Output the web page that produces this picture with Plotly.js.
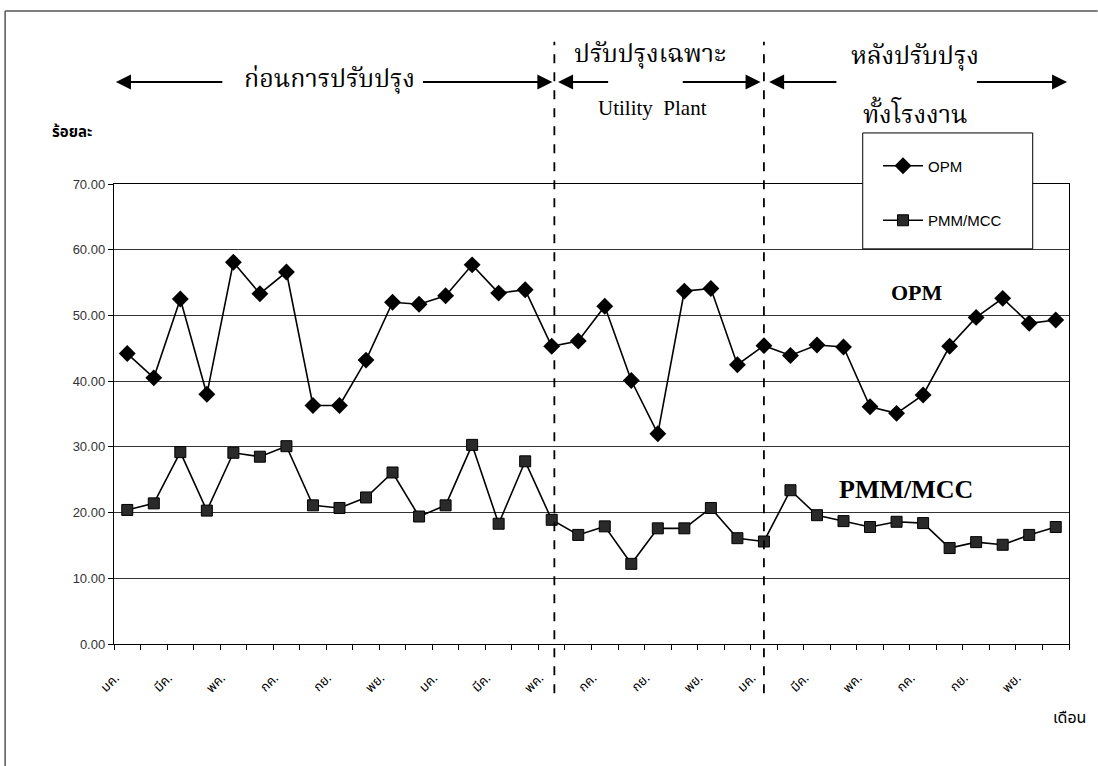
<!DOCTYPE html>
<html>
<head>
<meta charset="utf-8">
<script src="https://cdn.plot.ly/plotly-3.0.1.min.js"></script>
<style>
  html, body { margin: 0; padding: 0; background: #ffffff; }
  #chart { width: 1098px; height: 766px; }
</style>
</head>
<body>
<div id="chart"></div>
<script>
// Monthly ratios over three years (index 0 = มค. of the first year)
const monthNames = ['มค.', 'กพ.', 'มีค.', 'เมย.', 'พค.', 'มิย.', 'กค.', 'สค.', 'กย.', 'ตค.', 'พย.', 'ธค.'];

const opm = [44.2, 40.5, 52.5, 38.0, 58.1, 53.3, 56.6, 36.3, 36.3, 43.2, 52.0, 51.7,
             53.0, 57.7, 53.4, 53.9, 45.3, 46.1, 51.4, 40.1, 32.0, 53.7, 54.1, 42.5,
             45.4, 43.9, 45.5, 45.2, 36.1, 35.1, 37.9, 45.3, 49.7, 52.6, 48.8, 49.3];

const pmmMcc = [20.4, 21.4, 29.2, 20.3, 29.1, 28.5, 30.1, 21.1, 20.7, 22.3, 26.1, 19.4,
                21.1, 30.3, 18.3, 27.8, 18.9, 16.6, 17.9, 12.2, 17.6, 17.6, 20.7, 16.1,
                15.6, 23.4, 19.6, 18.7, 17.8, 18.6, 18.4, 14.6, 15.5, 15.1, 16.6, 17.8];

// Month positions where the improvement phases change
const phaseBreaks = [16.1, 24];

const idx = opm.map((_, i) => i);
const labelIdx = idx.filter(i => i % 2 === 0);
const labelText = labelIdx.map(i => monthNames[i % 12]);
const boundaryTicks = idx.concat([idx.length]).map(i => i - 0.5);

const thaiSerif = '"Noto Serif Thai", "Norasi", "Laksaman", "Noto Sans Thai", "Liberation Serif", serif';
const thaiSans = '"Noto Sans Thai", "Loma", "Garuda", "Tahoma", "DejaVu Sans", sans-serif';

const traces = [
  {
    x: idx, y: opm, name: 'OPM', type: 'scatter', mode: 'lines+markers',
    legendgroup: 'a',
    line: { color: '#000000', width: 1.6 },
    marker: { symbol: 'diamond', size: 13, color: '#000000' }
  },
  {
    x: idx, y: pmmMcc, name: 'PMM/MCC', type: 'scatter', mode: 'lines+markers',
    legendgroup: 'b',
    line: { color: '#000000', width: 1.6 },
    marker: { symbol: 'square', size: 11, color: '#2a2a2a', line: { color: '#000000', width: 1 } }
  }
];

const shapes = phaseBreaks.map(b => ({
  type: 'line', xref: 'x', yref: 'paper', x0: b, x1: b, y0: -0.107, y1: 1.309,
  line: { color: '#000000', width: 1.8, dash: 'dash' }, layer: 'above'
}));

// legend frame
shapes.push({
  type: 'rect', xref: 'paper', yref: 'paper', x0: 0.784, x1: 0.962, y0: 0.859, y1: 1.111,
  fillcolor: '#ffffff', line: { color: '#000000', width: 1 }, layer: 'above'
});

// page frame (top and left edges)
shapes.push({ type: 'line', xref: 'paper', yref: 'paper', x0: -0.114, x1: 1.03, y0: 1.376, y1: 1.376,
  line: { color: '#555555', width: 1.5 } });
shapes.push({ type: 'line', xref: 'paper', yref: 'paper', x0: -0.114, x1: -0.114, y0: 1.376, y1: -0.265,
  line: { color: '#555555', width: 1.5 } });

// phase arrows in paper units: [head, tail]
const plotLeft = 114, plotWidth = 955;
const arrowY = 1.222;
const arrows = [[0.002, 0.115], [0.459, 0.322], [0.465, 0.519], [0.677, 0.594], [0.686, 0.758], [0.998, 0.902]];

const annotations = arrows.map(a => ({
  x: a[0], y: arrowY, xref: 'paper', yref: 'paper',
  ax: (a[1] - a[0]) * plotWidth, ay: 0, axref: 'pixel', ayref: 'pixel',
  text: '', showarrow: true, arrowhead: 2, arrowsize: 1.5, arrowwidth: 2, arrowcolor: '#000000'
}));

const txt = (text, x, y, font, extra) => Object.assign({
  text: text, x: x, y: y, xref: 'paper', yref: 'paper', showarrow: false,
  xanchor: 'center', yanchor: 'middle', font: font
}, extra || {});

annotations.push(
  txt('ก่อนการปรับปรุง', 0.226, 1.226, { family: thaiSerif, size: 25, color: '#000000' }),
  txt('ปรับปรุงเฉพาะ', 0.561, 1.280, { family: thaiSerif, size: 25, color: '#000000' }),
  txt('Utility  Plant', 0.564, 1.165, { family: '"Liberation Serif", serif', size: 21, color: '#000000' }),
  txt('หลังปรับปรุง', 0.839, 1.276, { family: thaiSerif, size: 25, color: '#000000' }),
  txt('ทั้งโรงงาน', 0.839, 1.148, { family: thaiSerif, size: 25, color: '#000000' }),
  txt('<b>OPM</b>', 0.841, 0.765, { family: '"Liberation Serif", serif', size: 22, color: '#000000' }),
  txt('<b>PMM/MCC</b>', 0.829, 0.335, { family: '"Liberation Serif", serif', size: 26, color: '#000000' }),
  txt('<b>ร้อยละ</b>', -0.044, 1.111, { family: thaiSans, size: 15, color: '#000000' }),
  txt('เดือน', 1.001, -0.161, { family: thaiSans, size: 16, color: '#000000' })
);

const layout = {
  width: 1098, height: 766,
  margin: { l: plotLeft, r: 29, t: 184, b: 122 },
  paper_bgcolor: '#ffffff', plot_bgcolor: '#ffffff',
  showlegend: true,
  legend: {
    x: 0.80, y: 1.075, xanchor: 'left', yanchor: 'top',
    bgcolor: 'rgba(0,0,0,0)', borderwidth: 0,
    tracegroupgap: 32, itemwidth: 40,
    font: { family: '"Liberation Sans", Arial, sans-serif', size: 15, color: '#000000' }
  },
  xaxis: {
    range: [-0.5, 35.5], showgrid: false, zeroline: false,
    showline: true, linecolor: '#000000', linewidth: 1.2, mirror: true,
    tickmode: 'array', tickvals: labelIdx, ticktext: labelText,
    ticks: '', tickangle: -45, ticklabelshift: -12, ticklabelstandoff: 20,
    tickfont: { family: thaiSans, size: 13, color: '#000000' },
    minor: { tickmode: 'array', tickvals: boundaryTicks, ticks: 'outside', ticklen: 5, tickcolor: '#000000', showgrid: false }
  },
  yaxis: {
    range: [0, 70], dtick: 10, tickformat: '.2f',
    showgrid: true, gridcolor: '#333333', gridwidth: 1, zeroline: false,
    showline: true, linecolor: '#000000', linewidth: 1.2, mirror: true,
    ticks: 'outside', ticklen: 5, tickcolor: '#000000',
    tickfont: { family: '"Liberation Sans", Arial, sans-serif', size: 13, color: '#333333' }
  },
  shapes: shapes,
  annotations: annotations
};

Plotly.newPlot('chart', traces, layout, { displayModeBar: false, staticPlot: true });
</script>
</body>
</html>
